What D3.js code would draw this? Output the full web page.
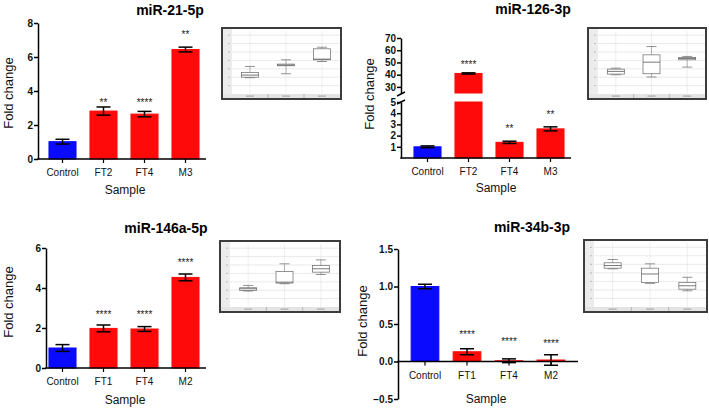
<!DOCTYPE html>
<html><head><meta charset="utf-8">
<script src="https://cdn.jsdelivr.net/npm/d3@7"></script>
<style>body{margin:0;background:#fff}svg{display:block}</style>
</head><body>
<svg id="c" width="709" height="409"></svg>
<script>
// ---------- data ----------
const titles = ["miR-21-5p", "miR-126-3p", "miR-146a-5p", "miR-34b-3p"];

const cats1 = ["Control", "FT2", "FT4", "M3"];
const vals1 = [1.02, 2.82, 2.64, 6.44];
const errs1 = [0.14, 0.24, 0.16, 0.14];
const stars1 = ["", "**", "****", "**"];
const starLv1 = [null, 3.47, 3.47, 7.47];
const ticks1 = [0, 2, 4, 6, 8];

const cats2 = ["Control", "FT2", "FT4", "M3"];
const vals2 = [1.0, 41, 1.4, 2.6];
const errs2 = [0.08, 0.5, 0.1, 0.18];
const stars2 = ["", "****", "**", "**"];
const starLv2 = [null, 50.3, 2.77, 4.1];
const ticks2Low = [1, 2, 3, 4, 5];
const ticks2High = [30, 40, 50, 60, 70];

const cats3 = ["Control", "FT1", "FT4", "M2"];
const vals3 = [1.0, 1.98, 1.95, 4.53];
const errs3 = [0.17, 0.17, 0.12, 0.17];
const stars3 = ["", "****", "****", "****"];
const starLv3 = [null, 2.8, 2.8, 5.4];
const ticks3 = [0, 2, 4, 6];

const cats4 = ["Control", "FT1", "FT4", "M2"];
const vals4 = [1.0, 0.13, 0.01, 0.02];
const errs4 = [0.03, 0.04, 0.025, 0.07];
const stars4 = ["", "****", "****", "****"];
const starLv4 = [null, 0.39, 0.29, 0.27];
const ticks4 = [-0.5, 0, 0.5, 1.0, 1.5];

// inset box-plot stats [min, q1, median, q3, max] for the three groups
const insetGroups = ["Control", "Patient", "Metastasis"];
const inset1 = [[1.94, 2.0, 2.25, 2.57, 3.28], [2.41, 3.36, 3.44, 3.56, 4.07], [3.87, 4.07, 4.15, 5.38, 5.57]];
const inset2 = [[2.29, 2.37, 2.69, 2.96, 3.08], [2.02, 2.41, 3.79, 4.66, 5.65], [3.2, 4.07, 4.23, 4.35, 4.47]];
const inset3 = [[1.9, 1.98, 2.17, 2.29, 2.57], [2.77, 2.85, 2.96, 4.23, 5.14], [3.87, 4.15, 4.55, 4.94, 5.61]];
const inset4 = [[4.47, 4.55, 4.86, 5.18, 5.57], [2.77, 2.89, 3.87, 4.55, 5.06], [1.9, 2.09, 2.49, 2.89, 3.48]];
const insetTicks = [1, 2, 3, 4, 5, 6, 7];

// ---------- drawing ----------
const FONT = "'Liberation Sans', Arial, Helvetica, sans-serif";
const svg = d3.select("#c");
const BLUE = "#0a0aff", RED = "#ff0a0a";

function drawPanel(p) {
  const g = svg.append("g");
  const L = p.layout;
  const x = d3.scaleBand().domain(p.cats).range(L.band).paddingInner(0.34).paddingOuter(0.17);
  const segs = p.segs.map((s, i) => ({lo: s.lo, hi: s.hi, ticks: s.ticks,
    sc: d3.scaleLinear().domain([s.lo, s.hi]).range(L.yr[i])}));
  const segOf = v => segs.find(s => v >= s.lo - 1e-9 && v <= s.hi + 1e-9) || segs[0];
  const Y = v => segOf(v).sc(v);
  const y0 = segs[0].sc(0);

  // bars
  p.vals.forEach((v, i) => {
    const col = i === 0 ? BLUE : RED;
    segs.forEach(s => {
      const lo = Math.max(s.lo, Math.min(0, v)), hi = Math.min(s.hi, Math.max(0, v));
      if (hi > lo) {
        g.append("rect").attr("x", x(p.cats[i])).attr("width", x.bandwidth())
          .attr("y", s.sc(hi)).attr("height", Math.max(0.5, s.sc(lo) - s.sc(hi)))
          .attr("fill", col).attr("stroke", col).attr("stroke-width", 1);
      }
    });
  });
  // error bars
  p.vals.forEach((v, i) => {
    const cx = x(p.cats[i]) + x.bandwidth() / 2, e = p.errs[i];
    const yt = Y(v + e), yb = Y(v - e);
    g.append("line").attr("x1", cx).attr("x2", cx).attr("y1", yt).attr("y2", yb)
      .attr("stroke", "#000").attr("stroke-width", 1.5);
    [yt, yb].forEach(yy => g.append("line").attr("x1", cx - 7).attr("x2", cx + 7)
      .attr("y1", yy).attr("y2", yy).attr("stroke", "#000").attr("stroke-width", 1.5));
  });
  // stars
  p.stars.forEach((s, i) => {
    if (!s) return;
    g.append("text").attr("x", x(p.cats[i]) + x.bandwidth() / 2).attr("y", Y(p.starLv[i]) + 5.5)
      .attr("text-anchor", "middle").attr("font-family", FONT).attr("font-size", 10)
      .attr("fill", "#222").text(s);
  });
  // y axes
  segs.forEach(s => {
    const ax = g.append("g").attr("transform", `translate(${L.axisX},0)`)
      .call(d3.axisLeft(s.sc).tickValues(s.ticks).tickSize(4).tickSizeOuter(0).tickPadding(1)
        .tickFormat(p.fmt ? d3.format(p.fmt) : d3.format("d")));
    ax.select(".domain").attr("stroke-width", 1.5);
    ax.selectAll(".tick line").attr("stroke-width", 1.5);
    ax.selectAll("text").attr("font-family", FONT).attr("font-size", 10).attr("font-weight", "bold").attr("fill", "#111");
  });
  if (segs.length > 1) {
    // axis break marks
    [segs[1].sc(segs[1].lo), segs[0].sc(segs[0].hi)].forEach((yy, k) => {
      g.append("line").attr("x1", L.axisX - 4).attr("x2", L.axisX + 4)
        .attr("y1", yy + (k ? 0 : 1) + 2).attr("y2", yy + (k ? 0 : 1) - 2)
        .attr("stroke", "#000").attr("stroke-width", 1.5);
    });
  }
  // x axis
  const xa = g.append("g").attr("transform", `translate(0,${y0})`)
    .call(d3.axisBottom(x).tickSize(4).tickPadding(6));
  xa.select(".domain").remove();
  xa.selectAll(".tick line").attr("stroke-width", 1.2);
  xa.selectAll("text").attr("font-family", FONT).attr("font-size", 10).attr("fill", "#111");
  g.append("line").attr("x1", L.axisX - 0.75).attr("x2", L.xEnd).attr("y1", y0).attr("y2", y0)
    .attr("stroke", "#000").attr("stroke-width", 1.5);

  // labels
  g.append("text").attr("x", L.title[0]).attr("y", L.title[1]).attr("text-anchor", "middle")
    .attr("font-family", FONT).attr("font-size", 14).attr("font-weight", "bold").text(p.title);
  g.append("text").attr("transform", `translate(${L.ylab[0]},${L.ylab[1]}) rotate(-90)`)
    .attr("text-anchor", "middle").attr("font-family", FONT).attr("font-size", 13)
    .attr("fill", "#111").text("Fold change");
  g.append("text").attr("x", L.samp[0]).attr("y", L.samp[1]).attr("text-anchor", "middle")
    .attr("font-family", FONT).attr("font-size", 12).attr("fill", "#111").text("Sample");

  drawInset(L.inset, p.inset);
}

function drawInset(r, boxes) {
  const [x0, y0, w, h] = r;
  const g = svg.append("g");
  const left = x0 + 10, bottom = y0 + h - 5, top = y0 + 3;
  g.append("rect").attr("x", x0).attr("y", y0).attr("width", w).attr("height", h)
    .attr("fill", "#fff").attr("stroke", "#3c3c3c").attr("stroke-width", 2);
  g.append("rect").attr("x", x0 + 1).attr("y", y0 + 1).attr("width", 9).attr("height", h - 2).attr("fill", "#ececec");
  g.append("rect").attr("x", x0 + 1).attr("y", bottom).attr("width", w - 2).attr("height", 4).attr("fill", "#e4e4e4");
  const ys = d3.scaleLinear().domain([0, 7.5]).range([bottom, top]);
  const xs = d3.scalePoint().domain(insetGroups).range([left, x0 + w - 1]).padding(0.5);
  insetTicks.forEach(t => g.append("line").attr("x1", left).attr("x2", x0 + w - 1)
    .attr("y1", ys(t)).attr("y2", ys(t)).attr("stroke", "#dcdcdc").attr("stroke-width", 0.6));
  insetGroups.forEach(k => g.append("line").attr("x1", xs(k)).attr("x2", xs(k))
    .attr("y1", top).attr("y2", bottom).attr("stroke", "#e2e2e2").attr("stroke-width", 0.6));
  insetTicks.forEach(t => g.append("line").attr("x1", x0 + 6).attr("x2", x0 + 8)
    .attr("y1", ys(t)).attr("y2", ys(t)).attr("stroke", "#999").attr("stroke-width", 0.6));
  insetGroups.forEach((k, i) => {
    g.append("rect").attr("x", xs(k) - 4).attr("y", bottom + 1.5).attr("width", 8).attr("height", 1.2).attr("fill", "#aaa");
    if (i < 2) g.append("line").attr("x1", xs(k) + xs.step() / 2).attr("x2", xs(k) + xs.step() / 2)
      .attr("y1", bottom).attr("y2", bottom + 4).attr("stroke", "#999").attr("stroke-width", 0.6);
    const [mn, q1, md, q3, mx] = boxes[i];
    const cx = xs(k), bw = 17;
    g.append("line").attr("x1", cx).attr("x2", cx).attr("y1", ys(mx)).attr("y2", ys(mn))
      .attr("stroke", "#888").attr("stroke-width", 0.6);
    [mn, mx].forEach(v => g.append("line").attr("x1", cx - 5).attr("x2", cx + 5)
      .attr("y1", ys(v)).attr("y2", ys(v)).attr("stroke", "#777").attr("stroke-width", 0.8));
    g.append("rect").attr("x", cx - bw / 2).attr("y", ys(q3)).attr("width", bw)
      .attr("height", Math.max(1, ys(q1) - ys(q3))).attr("fill", "#fff")
      .attr("stroke", "#666").attr("stroke-width", 0.7);
    g.append("line").attr("x1", cx - bw / 2).attr("x2", cx + bw / 2).attr("y1", ys(md)).attr("y2", ys(md))
      .attr("stroke", "#555").attr("stroke-width", 0.8);
  });
}

drawPanel({title: titles[0], cats: cats1, vals: vals1, errs: errs1, stars: stars1, starLv: starLv1,
  segs: [{lo: 0, hi: 8, ticks: ticks1}], inset: inset1,
  layout: {axisX: 38, band: [42, 206], xEnd: 206, yr: [[159, 23]], title: [170, 15], ylab: [12.5, 93],
    samp: [125, 194], inset: [222, 28, 119, 71]}});

drawPanel({title: titles[1], cats: cats2, vals: vals2, errs: errs2, stars: stars2, starLv: starLv2,
  segs: [{lo: 0, hi: 5, ticks: ticks2Low}, {lo: 25, hi: 70, ticks: ticks2High}], inset: inset2,
  layout: {axisX: 401, band: [407, 571], xEnd: 571, yr: [[158, 102], [93, 38]], title: [533, 14], ylab: [374, 94],
    samp: [496, 192], inset: [588, 28, 118, 71]}});

drawPanel({title: titles[2], cats: cats3, vals: vals3, errs: errs3, stars: stars3, starLv: starLv3,
  segs: [{lo: 0, hi: 6, ticks: ticks3}], inset: inset3,
  layout: {axisX: 46, band: [42, 206], xEnd: 206, yr: [[368, 248]], title: [166, 233], ylab: [12.5, 302],
    samp: [125, 404], inset: [220, 241, 120, 71]}});

drawPanel({title: titles[3], cats: cats4, vals: vals4, errs: errs4, stars: stars4, starLv: starLv4,
  segs: [{lo: -0.5, hi: 1.5, ticks: ticks4}], inset: inset4, fmt: ".1f",
  layout: {axisX: 398, band: [404, 572], xEnd: 578, yr: [[399, 249]], title: [532, 232], ylab: [367, 321],
    samp: [486, 403], inset: [584, 240, 123, 72]}});
</script>
</body></html>
